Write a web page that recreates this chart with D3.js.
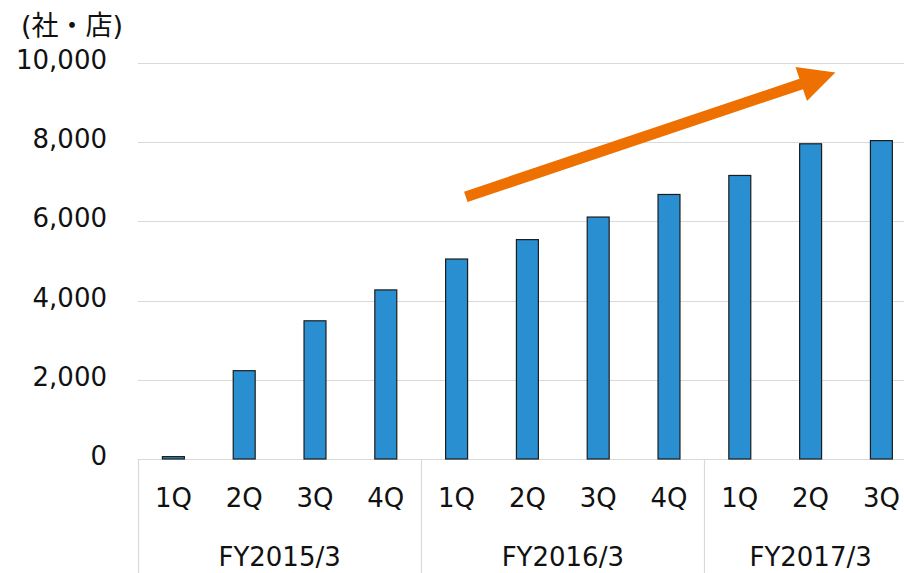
<!DOCTYPE html>
<html>
<head>
<meta charset="utf-8">
<script src="https://cdn.jsdelivr.net/npm/d3@7"></script>
<style>
  html, body { margin: 0; padding: 0; background: #fff; overflow: hidden; }
  svg { display: block; }
  text { font-family: "DejaVu Sans", "Noto Sans CJK JP", sans-serif; fill: #111; }
</style>
</head>
<body>
<div id="chart"></div>
<script>
// Quarterly cumulative count of companies / stores
const quarters = ["1Q", "2Q", "3Q", "4Q", "1Q", "2Q", "3Q", "4Q", "1Q", "2Q", "3Q"];
const fiscalYears = ["FY2015/3", "FY2016/3", "FY2017/3"];
const yearOfQuarter = [0, 0, 0, 0, 1, 1, 1, 1, 2, 2, 2];
const counts = [60, 2230, 3490, 4270, 5050, 5540, 6110, 6680, 7160, 7960, 8040];
const yTicks = [0, 2000, 4000, 6000, 8000, 10000];
const unitLabel = "(社・店)";

// Trend arrow, expressed in category position (index units) and value
const trendFrom = { pos: 4.63, value: 6620 };
const trendTo = { pos: 9.85, value: 9760 };

const W = 904, H = 573;
const left = 138, bandW = 70.8, baseY = 459, topY = 63;

const svg = d3.select("#chart").append("svg").attr("width", W).attr("height", H);

const idx = d3.range(quarters.length);
const x = d3.scaleBand().domain(idx).range([left, left + bandW * quarters.length]).paddingInner(0.69).paddingOuter(0.345);
const pos = d3.scaleLinear().domain([0, quarters.length]).range([left, left + bandW * quarters.length]);
const y = d3.scaleLinear().domain([0, 10000]).range([baseY, topY]);

// Horizontal gridlines
svg.append("g").selectAll("line").data(yTicks.filter(d => d > 0)).join("line")
  .attr("x1", left).attr("x2", W)
  .attr("y1", d => Math.round(y(d)) + 0.5).attr("y2", d => Math.round(y(d)) + 0.5)
  .attr("stroke", "#d9d9d9").attr("stroke-width", 1.2);

// Value axis labels
const fmt = d3.format(",");
svg.append("g").selectAll("text").data(yTicks).join("text")
  .attr("x", 107).attr("y", d => y(d) + 6)
  .attr("text-anchor", "end")
  .attr("font-size", 26)
  .text(d => fmt(d));

svg.append("text").attr("x", 21).attr("y", 35).attr("font-size", 27).text(unitLabel);

// Category axis: baseline and year separators
svg.append("line").attr("x1", left).attr("x2", W).attr("y1", baseY + 0.5).attr("y2", baseY + 0.5)
  .attr("stroke", "#d9d9d9").attr("stroke-width", 1.2);
const yearBounds = [0, 4, 8, 11];
svg.append("g").selectAll("line").data(yearBounds).join("line")
  .attr("x1", d => Math.round(pos(d)) + 0.5).attr("x2", d => Math.round(pos(d)) + 0.5)
  .attr("y1", baseY).attr("y2", H)
  .attr("stroke", "#d9d9d9").attr("stroke-width", 1.2);

// Bars
svg.append("g").selectAll("rect").data(counts).join("rect")
  .attr("x", (d, i) => x(i))
  .attr("width", x.bandwidth())
  .attr("y", d => y(d))
  .attr("height", d => baseY - y(d))
  .attr("fill", "#2a8fd0")
  .attr("stroke", "#1c1c1c")
  .attr("stroke-width", 1.2);

// Quarter labels
svg.append("g").selectAll("text").data(quarters).join("text")
  .attr("x", (d, i) => x(i) + x.bandwidth() / 2)
  .attr("y", 507)
  .attr("text-anchor", "middle")
  .attr("font-size", 26)
  .text(d => d);

// Fiscal year labels, centred under their quarters
svg.append("g").selectAll("text").data(fiscalYears).join("text")
  .attr("x", (d, i) => {
    const qs = idx.filter(k => yearOfQuarter[k] === i);
    return (pos(qs[0]) + pos(qs[qs.length - 1] + 1)) / 2;
  })
  .attr("y", 566)
  .attr("text-anchor", "middle")
  .attr("font-size", 26)
  .text(d => d);

// Orange trend arrow
const x0 = pos(trendFrom.pos), y0 = y(trendFrom.value);
const x1 = pos(trendTo.pos), y1 = y(trendTo.value);
const ang = Math.atan2(y1 - y0, x1 - x0);
const len = Math.hypot(x1 - x0, y1 - y0);
const shaftHalf = 5.5, headLen = 36, headHalf = 18;
const shape = [
  [0, -shaftHalf], [len - headLen, -shaftHalf], [len - headLen, -headHalf],
  [len, 0], [len - headLen, headHalf], [len - headLen, shaftHalf], [0, shaftHalf]
];
svg.append("path")
  .attr("d", d3.line()(shape))
  .attr("transform", `translate(${x0},${y0}) rotate(${ang * 180 / Math.PI})`)
  .attr("fill", "#ed7000");
</script>
</body>
</html>
